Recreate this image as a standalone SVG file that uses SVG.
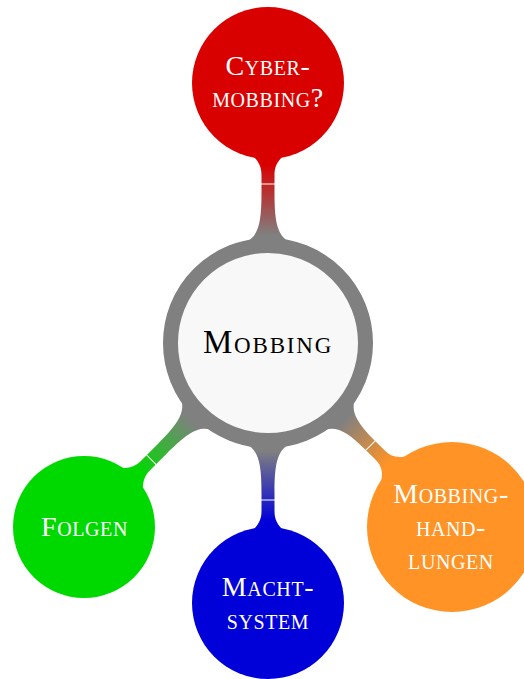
<svg xmlns="http://www.w3.org/2000/svg" width="524" height="679" viewBox="0 0 524 679">
<style>
.t{font-family:"Liberation Serif","DejaVu Serif",serif;font-variant:small-caps;text-anchor:middle;fill:#ffffff;font-size:28px;letter-spacing:0.6px}
.c{font-family:"Liberation Serif","DejaVu Serif",serif;font-variant:small-caps;text-anchor:middle;fill:#000000;font-size:33px;letter-spacing:1.8px}
.seam{stroke:#ffffff;stroke-width:1}
</style>
<defs>
<linearGradient id="gR" gradientUnits="userSpaceOnUse" x1="0" y1="-108" x2="0" y2="-178"><stop offset="0" stop-color="#808080"/><stop offset="1" stop-color="#d90000"/></linearGradient>
<linearGradient id="gB" gradientUnits="userSpaceOnUse" x1="0" y1="-108" x2="0" y2="-178"><stop offset="0" stop-color="#808080"/><stop offset="1" stop-color="#0000d9"/></linearGradient>
<linearGradient id="gG" gradientUnits="userSpaceOnUse" x1="0" y1="-108" x2="0" y2="-183"><stop offset="0" stop-color="#808080"/><stop offset="1" stop-color="#00d900"/></linearGradient>
<linearGradient id="gO" gradientUnits="userSpaceOnUse" x1="0" y1="-108" x2="0" y2="-170"><stop offset="0" stop-color="#808080"/><stop offset="1" stop-color="#ff9326"/></linearGradient>
</defs>
<g id="connectors">
<g transform="translate(268,343)">
<path fill="url(#gR)" d="M-24,-100 C-10,-106 -6.5,-118 -6.5,-150 L-6.5,-168 C-6.5,-176 -9,-181 -15,-187 L15,-187 C9,-181 6.5,-176 6.5,-168 L6.5,-150 C6.5,-118 10,-106 24,-100 Z"/>
<line class="seam" x1="-8" y1="-159" x2="8" y2="-159"/>
</g>
<g transform="translate(268,343) rotate(180)">
<path fill="url(#gB)" d="M-24,-100 C-10,-106 -6.5,-118 -6.5,-150 L-6.5,-168 C-6.5,-176 -9,-181 -15,-187 L15,-187 C9,-181 6.5,-176 6.5,-168 L6.5,-150 C6.5,-118 10,-106 24,-100 Z"/>
<line class="seam" x1="-8" y1="-157" x2="8" y2="-157"/>
</g>
<g transform="translate(268,343) rotate(225)">
<path fill="url(#gG)" d="M-24,-100 C-10,-106 -6.5,-118 -6.5,-150 L-6.5,-173 C-6.5,-181 -9,-186 -15,-192 L15,-192 C9,-186 6.5,-181 6.5,-173 L6.5,-150 C6.5,-118 10,-106 24,-100 Z"/>
<line class="seam" x1="-8" y1="-165" x2="8" y2="-165"/>
</g>
<g transform="translate(268,343) rotate(135)">
<path fill="url(#gO)" d="M-24,-100 C-10,-106 -6.5,-118 -6.5,-145 L-6.5,-159 C-6.5,-167 -10,-173 -18,-178 L18,-178 C10,-173 6.5,-167 6.5,-159 L6.5,-145 C6.5,-118 10,-106 24,-100 Z"/>
<line class="seam" x1="-8" y1="-145" x2="8" y2="-145"/>
</g>
</g>
<g id="mobbing">
<circle cx="268" cy="343" r="97.5" fill="#f8f8f8" stroke="#808080" stroke-width="15"/>
<text class="c" x="268" y="353">Mobbing</text>
</g>
<g id="cybermobbing">
<circle cx="268" cy="83" r="76" fill="#d90000"/>
<text class="t" x="268" y="75">Cyber-</text>
<text class="t" x="268" y="107">mobbing?</text>
</g>
<g id="machtsystem">
<circle cx="268" cy="603" r="76" fill="#0000d9"/>
<text class="t" x="268" y="596">Macht-</text>
<text class="t" x="268" y="629">system</text>
</g>
<g id="folgen">
<circle cx="84" cy="527" r="71" fill="#00d900"/>
<text class="t" x="84.5" y="536">Folgen</text>
</g>
<g id="mobbinghandlungen">
<circle cx="452" cy="527" r="85" fill="#ff9326"/>
<text class="t" x="451" y="503">Mobbing-</text>
<text class="t" x="451" y="536">hand-</text>
<text class="t" x="451" y="569">lungen</text>
</g>
</svg>
